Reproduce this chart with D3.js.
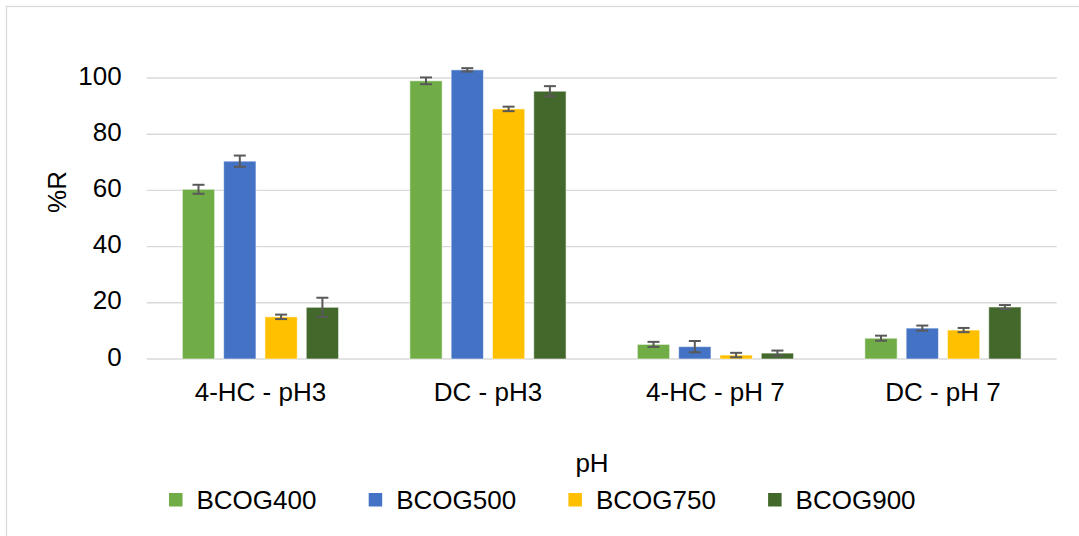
<!DOCTYPE html>
<html>
<head>
<meta charset="utf-8">
<script src="https://cdn.jsdelivr.net/npm/d3@7"></script>
<style>
  body { margin: 0; background: #fff; }
  svg { display: block; }
  text { font-family: "Liberation Sans", Arial, sans-serif; fill: #000; }
</style>
</head>
<body>
<main></main>
<script>
// chart data
const categories = ['4-HC - pH3', 'DC - pH3', '4-HC - pH 7', 'DC - pH 7'];
const series = ['BCOG400', 'BCOG500', 'BCOG750', 'BCOG900'];
const colors = ['#70AD47', '#4472C4', '#FFC000', '#43682B'];
// values per series, in category order
const values = [
  [60.4, 99.0, 5.2, 7.4],
  [70.4, 102.9, 4.4, 11.0],
  [15.0, 89.0, 1.4, 10.3],
  [18.4, 95.3, 2.1, 18.5]
];
const errors = [
  [1.6, 1.2, 0.9, 0.9],
  [2.0, 0.6, 2.0, 0.9],
  [0.8, 0.8, 0.8, 0.75],
  [3.4, 1.8, 0.9, 0.7]
];
const yTicks = [0, 20, 40, 60, 80, 100];

const WIDTH = 1079, HEIGHT = 536;
const plot = { left: 146.7, right: 1056.7, top: 78, bottom: 359 };
const FONT = 26;

const svg = d3.select('main').append('svg')
  .attr('width', WIDTH)
  .attr('height', HEIGHT);

// outer chart border (runs off the right/bottom edge in the reference)
svg.append('rect')
  .attr('x', 6.5).attr('y', 6.5)
  .attr('width', WIDTH + 10).attr('height', HEIGHT + 10)
  .attr('fill', 'none')
  .attr('stroke', '#D9D9D9')
  .attr('stroke-width', 1.3);

const x0 = d3.scaleBand()
  .domain(categories)
  .range([plot.left, plot.right]);

const groupW = 156.2;
const x1 = d3.scaleBand()
  .domain(series)
  .range([0, groupW])
  .paddingInner(0.218);

const y = d3.scaleLinear()
  .domain([0, 100])
  .range([plot.bottom, plot.top]);

// gridlines
svg.append('g')
  .selectAll('line')
  .data(yTicks)
  .enter()
  .append('line')
  .attr('x1', plot.left)
  .attr('x2', plot.right)
  .attr('y1', d => y(d))
  .attr('y2', d => y(d))
  .attr('stroke', '#D9D9D9')
  .attr('stroke-width', 1.4);

// y tick labels
svg.append('g')
  .selectAll('text')
  .data(yTicks)
  .enter()
  .append('text')
  .attr('x', 121.7)
  .attr('y', d => y(d) + 6.5)
  .attr('text-anchor', 'end')
  .attr('font-size', FONT)
  .text(d => d);

// flatten to bar records
const bars = [];
series.forEach((s, si) => {
  categories.forEach((c, ci) => {
    bars.push({ s, c, si, v: values[si][ci], e: errors[si][ci] });
  });
});

const barX = d => x0(d.c) + x0.bandwidth() / 2 - groupW / 2 + x1(d.s);

svg.append('g')
  .selectAll('rect')
  .data(bars)
  .enter()
  .append('rect')
  .attr('x', barX)
  .attr('y', d => y(d.v))
  .attr('width', x1.bandwidth())
  .attr('height', d => y(0) - y(d.v))
  .attr('fill', d => colors[d.si])
  .attr('stroke', 'rgba(255,255,255,0.55)')
  .attr('stroke-width', 1);

// error bars
const eb = svg.append('g')
  .attr('stroke', '#595959')
  .attr('stroke-width', 2)
  .selectAll('g')
  .data(bars)
  .enter()
  .append('g')
  .attr('transform', d => `translate(${barX(d) + x1.bandwidth() / 2},0)`);

eb.append('line')
  .attr('y1', d => y(d.v + d.e))
  .attr('y2', d => y(d.v - d.e));
eb.append('line')
  .attr('x1', -6).attr('x2', 6)
  .attr('y1', d => y(d.v + d.e))
  .attr('y2', d => y(d.v + d.e));
eb.append('line')
  .attr('x1', -6).attr('x2', 6)
  .attr('y1', d => y(d.v - d.e))
  .attr('y2', d => y(d.v - d.e));

// category labels
svg.append('g')
  .selectAll('text')
  .data(categories)
  .enter()
  .append('text')
  .attr('x', d => x0(d) + x0.bandwidth() / 2)
  .attr('y', 400.7)
  .attr('text-anchor', 'middle')
  .attr('font-size', FONT)
  .text(d => d);

// axis titles
svg.append('text')
  .attr('x', 592)
  .attr('y', 472)
  .attr('text-anchor', 'middle')
  .attr('font-size', FONT)
  .text('pH');

svg.append('text')
  .attr('transform', 'translate(66,192) rotate(-90)')
  .attr('text-anchor', 'middle')
  .attr('font-size', FONT)
  .text('%R');

// legend
const legend = svg.append('g')
  .selectAll('g')
  .data(series)
  .enter()
  .append('g')
  .attr('transform', (d, i) => `translate(${169 + i * 199.7},0)`);

legend.append('rect')
  .attr('x', 0).attr('y', 493)
  .attr('width', 13.5).attr('height', 13.5)
  .attr('fill', (d, i) => colors[i]);

legend.append('text')
  .attr('x', 27.5)
  .attr('y', 509.3)
  .attr('font-size', FONT)
  .text(d => d);
</script>
</body>
</html>
